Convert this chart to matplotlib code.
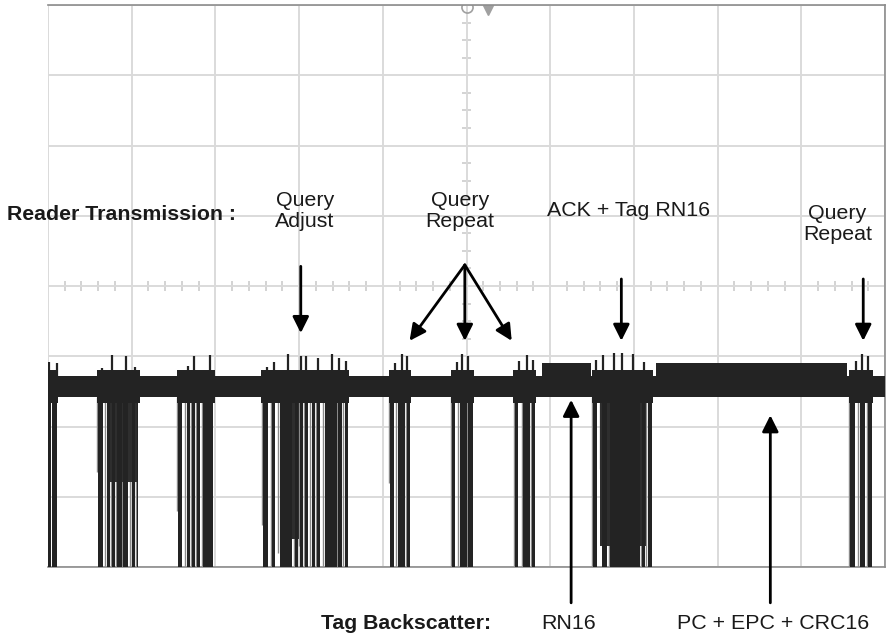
import matplotlib.pyplot as plt

plt.rcParams['font.family'] = ['Liberation Sans', 'DejaVu Sans']

# scope screen: 10 x 8 divisions, signal level in divisions
base_low, base_high = 2.42, 2.72
burst_low, burst_high = 2.34, 2.80
tag_low, tag_high = 2.45, 2.90

# reader bursts (start, end) in divisions
burst_spans = [(0.00, 0.12), (0.58, 1.10), (1.54, 1.99), (2.55, 3.60), (4.07, 4.34),
               (4.81, 5.09), (5.56, 5.83), (6.50, 7.23), (9.57, 9.86)]
# tag backscatter blocks
tag_spans = [(5.90, 6.49), (7.26, 9.55)]

# drops to zero level
drop_left = [0.00, 0.05, 0.60, 0.70, 0.76, 0.82, 0.90, 1.00, 1.06,
             1.55, 1.66, 1.72, 1.78, 1.85,
             2.57, 2.68, 2.77, 2.95, 3.01, 3.07, 3.15, 3.21, 3.31, 3.46, 3.55,
             4.09, 4.18, 4.29, 4.83, 4.92, 5.02, 5.58, 5.68, 5.78,
             6.51, 6.62, 6.71, 7.10, 7.17, 9.58, 9.70, 9.80]
drop_right = [0.03, 0.11, 0.66, 0.74, 0.80, 0.88, 0.96, 1.04, 1.08,
              1.60, 1.70, 1.76, 1.82, 1.97,
              2.63, 2.71, 2.92, 2.99, 3.05, 3.11, 3.19, 3.25, 3.45, 3.51, 3.58,
              4.13, 4.26, 4.33, 4.86, 5.01, 5.08, 5.62, 5.76, 5.82,
              6.56, 6.68, 7.07, 7.13, 7.22, 9.64, 9.76, 9.85]
# partial drops inside bursts: (start, end, lowest level)
partial_spans = [(0.70, 1.08, 1.21), (2.77, 3.00, 0.40), (6.60, 7.15, 0.30)]

# light grey traces inside bursts (x, lowest level)
trace_x = [0.59, 0.68, 0.75, 0.81, 0.89, 0.98, 1.05, 1.54, 1.64, 1.71, 1.77, 1.84,
           2.56, 2.66, 2.75, 2.94, 3.00, 3.06, 3.13, 3.20, 3.28, 3.45, 3.53,
           4.08, 4.16, 4.28, 4.82, 4.90, 5.01, 5.57, 5.66, 5.77,
           6.50, 6.60, 6.70, 7.09, 7.15, 9.57, 9.68, 9.79]
trace_low = [1.35, 0.00, 0.00, 0.00, 0.00, 0.00, 0.00, 0.80, 0.00, 0.00, 0.00, 0.00,
             0.60, 0.00, 0.20, 0.00, 0.30, 0.00, 0.00, 0.00, 0.00, 0.00, 0.00,
             1.20, 0.00, 0.00, 0.00, 0.00, 0.00, 0.00, 0.00, 0.00,
             0.00, 1.40, 0.00, 0.00, 0.00, 0.00, 0.00, 0.00]

# spikes above the carrier
spike_x = [0.01, 0.11, 0.65, 0.77, 0.93, 1.04, 1.59, 1.67, 1.74, 1.94,
           2.62, 2.70, 2.87, 3.02, 3.08, 3.23, 3.39, 3.48, 3.56,
           4.15, 4.23, 4.29, 4.89, 4.95, 5.02, 5.63, 5.72, 5.80,
           6.55, 6.63, 6.76, 6.86, 6.99, 7.12, 9.65, 9.73, 9.80]
spike_top = [2.92, 2.90, 2.83, 3.02, 3.01, 2.85, 2.80, 2.86, 3.00, 3.02,
             2.85, 2.92, 3.03, 3.01, 3.00, 2.97, 3.03, 2.98, 2.93,
             2.90, 3.03, 3.01, 2.92, 3.03, 3.00, 2.93, 3.02, 2.95,
             2.95, 3.02, 3.05, 3.04, 3.03, 2.92, 2.93, 3.03, 3.01]

fig = plt.figure(figsize=(8.86, 6.37), dpi=100)
ax = fig.add_axes([48 / 886, 70 / 637, 837 / 886, 562 / 637])
ax.set_xlim(0, 10)
ax.set_ylim(0, 8)

# graticule
ax.set_xticks(range(11))
ax.set_yticks(range(9))
ax.grid(color='#dadada', lw=1.4, zorder=0)
ax.tick_params(length=0, labelbottom=False, labelleft=False)
minor_x = [i / 5 for i in range(51) if i % 5]
minor_y = [i / 4 for i in range(33) if i % 4]
ax.vlines(minor_x, 4 - 0.065, 4 + 0.065, color='#d0d0d0', lw=1.3, zorder=1)
ax.hlines(minor_y, 5 - 0.05, 5 + 0.05, color='#d0d0d0', lw=1.3, zorder=1)
for s in ['top', 'right', 'bottom']:
    ax.spines[s].set_color('#8c8c8c')
    ax.spines[s].set_linewidth(1.2)
ax.spines['left'].set_visible(False)
ax.plot(5, 7.97, 'o', ms=8, mfc='none', mec='#a0a0a0', mew=1.2, clip_on=True, zorder=2)
ax.plot(5.26, 7.93, 'v', ms=7, color='#a0a0a0', zorder=2)

sig = '#232323'
ax.vlines(trace_x, trace_low, base_low, color='#8a8a8a', lw=1.0, zorder=2)
for a, b, lo in partial_spans:
    ax.fill_between([a, b], lo, base_low, color='#2e2e2e', lw=0, zorder=2.5)
drop_w = [r - l for l, r in zip(drop_left, drop_right)]
ax.bar(drop_left, base_high - 0.1, width=drop_w, bottom=0, align='edge',
       color=sig, lw=0, zorder=3)
ax.fill_between([0, 10], base_low, base_high, color=sig, lw=0, zorder=3)
for a, b in burst_spans:
    ax.fill_between([a, b], burst_low, burst_high, color=sig, lw=0, zorder=3)
for a, b in tag_spans:
    ax.fill_between([a, b], tag_low, tag_high, color=sig, lw=0, zorder=3)
ax.vlines(spike_x, base_low, spike_top, color=sig, lw=1.6, zorder=3)

# labels
txt = '#1a1a1a'
big = 15.4
ax.text(-0.49, 5.02, 'Reader Transmission :', fontsize=15.3, fontweight='bold',
        ha='left', va='center', clip_on=False, color=txt)
ax.text(3.07, 5.07, 'Query\nAdjust', fontsize=big, ha='center', va='center', linespacing=1.15, color=txt)
ax.text(4.92, 5.07, 'Query\nRepeat', fontsize=big, ha='center', va='center', linespacing=1.15, color=txt)
ax.text(6.94, 5.07, 'ACK + Tag RN16', fontsize=big, ha='center', va='center', color=txt)
ax.text(9.43, 4.88, 'Query\nRepeat', fontsize=big, ha='center', va='center', linespacing=1.15, color=txt)
ax.text(3.26, -0.80, 'Tag Backscatter:', fontsize=15.3, fontweight='bold',
        ha='left', va='center', clip_on=False, color=txt)
ax.text(6.22, -0.80, 'RN16', fontsize=big, ha='center', va='center', clip_on=False, color=txt)
ax.text(8.66, -0.80, 'PC + EPC + CRC16', fontsize=big, ha='center', va='center', clip_on=False, color=txt)

arrow = dict(arrowstyle='-|>,head_length=0.7,head_width=0.35', color='black', lw=2,
             mutation_scale=14, shrinkA=0, shrinkB=0)
arrows = [((3.02, 4.28), (3.02, 3.33)),
          ((4.98, 4.30), (4.32, 3.22)),
          ((4.98, 4.30), (4.98, 3.22)),
          ((4.98, 4.30), (5.54, 3.22)),
          ((6.85, 4.10), (6.85, 3.22)),
          ((9.74, 4.10), (9.74, 3.22)),
          ((6.25, -0.51), (6.25, 2.38)),
          ((8.63, -0.51), (8.63, 2.16))]
for start, end in arrows:
    ax.annotate('', xy=end, xytext=start, arrowprops=arrow, annotation_clip=False, zorder=6)

plt.savefig('out.png', dpi=100)
